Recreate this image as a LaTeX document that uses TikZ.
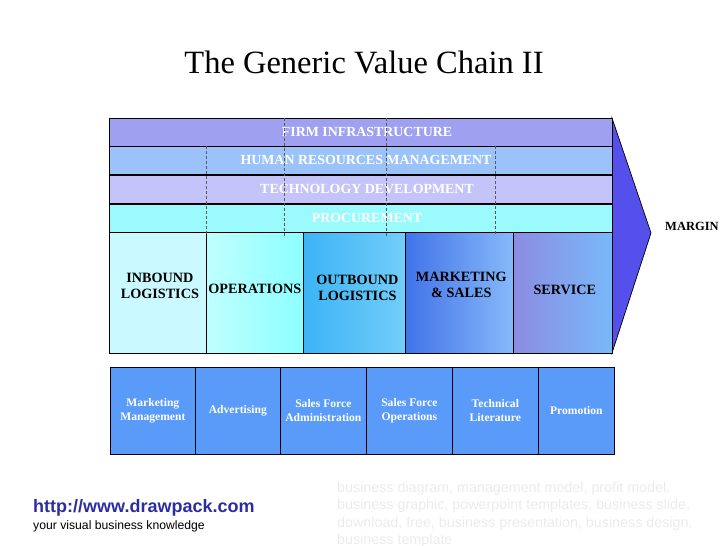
\documentclass[tikz,border=0pt]{standalone}
\usepackage{fontspec}
\setmainfont{Liberation Serif}
\setsansfont{Liberation Sans}
\usetikzlibrary{positioning}
\definecolor{firmpurple}{RGB}{160,160,240}
\definecolor{hrblue}{RGB}{155,195,250}
\definecolor{techlilac}{RGB}{196,196,250}
\definecolor{procyan}{RGB}{155,250,252}
\definecolor{inboundcyan}{RGB}{202,250,255}
\definecolor{marginblue}{RGB}{85,80,235}
\definecolor{taskblue}{RGB}{90,155,250}
\definecolor{linkblue}{RGB}{45,45,160}
\definecolor{tagsgray}{RGB}{235,235,235}

\begin{document}
\begin{tikzpicture}[x=1pt, y=-1pt,
    support/.style={draw=black, line width=0.7pt, minimum width=503pt, minimum height=28pt, inner sep=0pt, anchor=north west},
    supporttext/.style={text=white, font=\bfseries\fontsize{13.9}{15}\selectfont},
    primary/.style={draw=black, line width=0.7pt, minimum height=121pt, inner sep=0pt, anchor=north west},
    primarytext/.style={align=center, font=\bfseries\fontsize{14.2}{16.5}\selectfont},
    task/.style={draw=black, line width=0.7pt, fill=taskblue, minimum height=87pt, inner sep=0pt, anchor=north west, align=center, text=white, font=\bfseries\fontsize{11.6}{14}\selectfont}]
    \useasboundingbox (0,0) rectangle (728,546);
    % title
    \node[font=\fontsize{32.5}{36}\selectfont] (title) at (364,62) {The Generic Value Chain II};
    % margin chevron
    \draw[fill=marginblue, line width=0.7pt] (612,118) -- (651,233) -- (612,353) -- cycle;
    \node[font=\bfseries\fontsize{12.5}{14}\selectfont, anchor=west, inner sep=0pt] (margin) at (665,226) {MARGIN};
    % support activities
    \node[support, fill=firmpurple] (firm) at (109,118) {};
    \node[support, fill=hrblue] (hrm) at (109,146) {};
    \node[support, fill=techlilac] (tech) at (109,175) {};
    \node[support, fill=procyan] (proc) at (109,204) {};
    \node[supporttext] at (367,132) {FIRM INFRASTRUCTURE};
    \node[supporttext] at (366,160) {HUMAN RESOURCES MANAGEMENT};
    \node[supporttext] at (367,189) {TECHNOLOGY DEVELOPMENT};
    \node[supporttext] at (367,218) {PROCUREMENT};
    % primary activities
    \node[primary, fill=inboundcyan, minimum width=97pt] (inb) at (109,232) {};
    \node[primary, left color=cyan!25, right color=cyan!45, minimum width=97pt] (ops) at (206,232) {};
    \node[primary, left color={rgb,255:red,60;green,180;blue,245}, right color={rgb,255:red,115;green,205;blue,250}, minimum width=102pt] (outb) at (303,232) {};
    \node[primary, left color={rgb,255:red,65;green,115;blue,232}, right color={rgb,255:red,135;green,185;blue,250}, minimum width=108pt] (mkt) at (405,232) {};
    \node[primary, left color={rgb,255:red,140;green,140;blue,225}, right color={rgb,255:red,120;green,185;blue,250}, minimum width=99pt] (serv) at (513,232) {};
    \node[primarytext] at ([yshift=7pt,xshift=2pt]inb.center) {INBOUND\\LOGISTICS};
    \node[primarytext] at ([yshift=4pt]ops.center) {OPERATIONS};
    \node[primarytext] at ([yshift=5pt,xshift=3pt]outb.center) {OUTBOUND\\LOGISTICS};
    \node[primarytext] at ([yshift=8pt,xshift=2pt]mkt.center) {MARKETING\\\& SALES};
    \node[primarytext] at ([yshift=3pt,xshift=2pt]serv.center) {SERVICE};
    % dashed dividers over the support rows
    \draw[densely dashed, gray!70!black, line width=0.4pt] (206,146) -- (206,236);
    \draw[densely dashed, gray!70!black, line width=0.4pt] (284,118) -- (284,236);
    \draw[densely dashed, gray!70!black, line width=0.4pt] (386,118) -- (386,236);
    \draw[densely dashed, gray!70!black, line width=0.4pt] (495,146) -- (495,236);
    % marketing and sales tasks
    \node[task, minimum width=85pt] (mm) at (110,367) {Marketing\\Management};
    \node[task, minimum width=85pt] (adv) at (195,367) {Advertising};
    \node[task, minimum width=86pt] (sfa) at (280,367) {Sales Force\\Administration};
    \node[task, minimum width=86pt] (sfo) at (366,367) {Sales Force\\Operations};
    \node[task, minimum width=86pt] (tl) at (452,367) {Technical\\Literature};
    \node[task, minimum width=76pt] (promo) at (538,367) {Promotion};
    % footer
    \node[font=\sffamily\bfseries\fontsize{18}{20}\selectfont, text=linkblue, anchor=west, inner sep=0pt] (url) at (33,508) {http://www.drawpack.com};
    \node[font=\sffamily\fontsize{12.2}{14}\selectfont, anchor=west, inner sep=0pt] (motto) at (33,526) {your visual business knowledge};
    \node[font=\sffamily\fontsize{14.3}{17.4}\selectfont, text=tagsgray, align=left, anchor=north west, inner sep=0pt] (tags) at (337,482) {business diagram, management model, profit model,\\business graphic, powerpoint templates, business slide,\\download, free, business presentation, business design,\\business template};
\end{tikzpicture}
\end{document}
